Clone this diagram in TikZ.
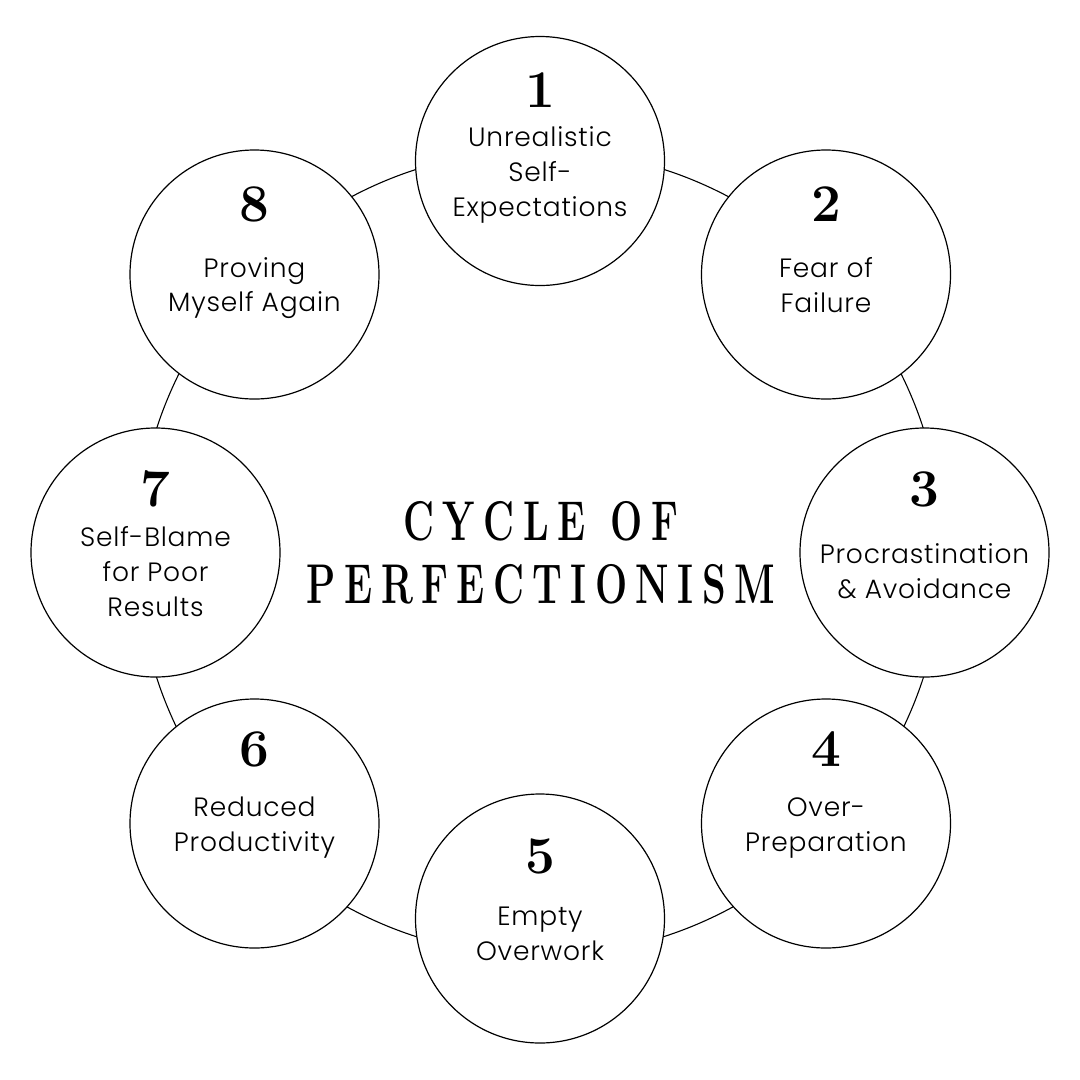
\documentclass[tikz,border=0pt]{standalone}
\usepackage{fontspec}
\newfontfamily\labfont[LetterSpace=3, UprightFont={* Light}]{Poppins}
\newcommand\lsp{\hspace{12.4pt}}
\begin{document}
\begin{tikzpicture}[x=1pt,y=-1pt,
  ring/.style={circle, draw=black, line width=1.1pt, minimum size=806pt, inner sep=0pt},
  stage/.style={circle, draw=black, fill=white, line width=1.2pt, minimum size=249pt, inner sep=0pt},
  num/.style={anchor=base, inner sep=0pt, font=\bfseries\fontsize{53}{53}\selectfont},
  lab/.style={anchor=base, inner sep=0pt, font=\labfont\fontsize{26.5}{26.5}\selectfont},
  ttl/.style={anchor=base, inner sep=0pt, font=\bfseries\fontsize{56}{56}\selectfont}]
\useasboundingbox (0,0) rectangle (1080,1080);
\fill[white] (0,0) rectangle (1080,1080);
\node[ring] (ring) at (540,553) {};
\node[stage] (c1) at (540,161) {};
\node[stage] (c2) at (826,274.5) {};
\node[stage] (c3) at (924.5,552.5) {};
\node[stage] (c4) at (826,823.5) {};
\node[stage] (c5) at (540,918.5) {};
\node[stage] (c6) at (254.5,823.5) {};
\node[stage] (c7) at (155.5,552.5) {};
\node[stage] (c8) at (254.5,274.5) {};
% 1
\node[num] (n1) at (540,107) {1};
\node[lab] (t1a) at (540,146.7) {Unrealistic};
\node[lab] (t1b) at (540,181.7) {Self-};
\node[lab] (t1c) at (540,216.7) {Expectations};
% 2
\node[num] (n2) at (826,221.7) {2};
\node[lab] (t2a) at (826,277.3) {Fear of};
\node[lab] (t2b) at (826,312.3) {Failure};
% 3
\node[num] (n3) at (924.5,506.7) {3};
\node[lab] (t3a) at (924.5,563.3) {Procrastination};
\node[lab] (t3b) at (924.5,598.3) {\& Avoidance};
% 4
\node[num] (n4) at (826,766) {4};
\node[lab] (t4a) at (826,816) {Over-};
\node[lab] (t4b) at (826,851) {Preparation};
% 5
\node[num] (n5) at (540,873) {5};
\node[lab] (t5a) at (540,925.7) {Empty};
\node[lab] (t5b) at (540,960) {Overwork};
% 6
\node[num] (n6) at (254.5,766) {6};
\node[lab] (t6a) at (254.5,816) {Reduced};
\node[lab] (t6b) at (254.5,851) {Productivity};
% 7
\node[num] (n7) at (155.5,506.7) {7};
\node[lab] (t7a) at (155.5,546.7) {Self-Blame};
\node[lab] (t7b) at (155.5,581.7) {for Poor};
\node[lab] (t7c) at (155.5,616) {Results};
% 8
\node[num] (n8) at (254.5,221.7) {8};
\node[lab] (t8a) at (254.5,277.3) {Proving};
\node[lab] (t8b) at (254.5,311.7) {Myself Again};
% title
\node[ttl] (title1) at (541,540) {\scalebox{0.68}[1]{C\lsp Y\lsp C\lsp L\lsp E\hspace{37.7pt}O\lsp F}};
\node[ttl] (title2) at (541,603.3) {\scalebox{0.68}[1]{P\lsp E\lsp R\lsp F\lsp E\lsp C\lsp T\lsp I\lsp O\lsp N\lsp I\lsp S\lsp M}};
\end{tikzpicture}
\end{document}
